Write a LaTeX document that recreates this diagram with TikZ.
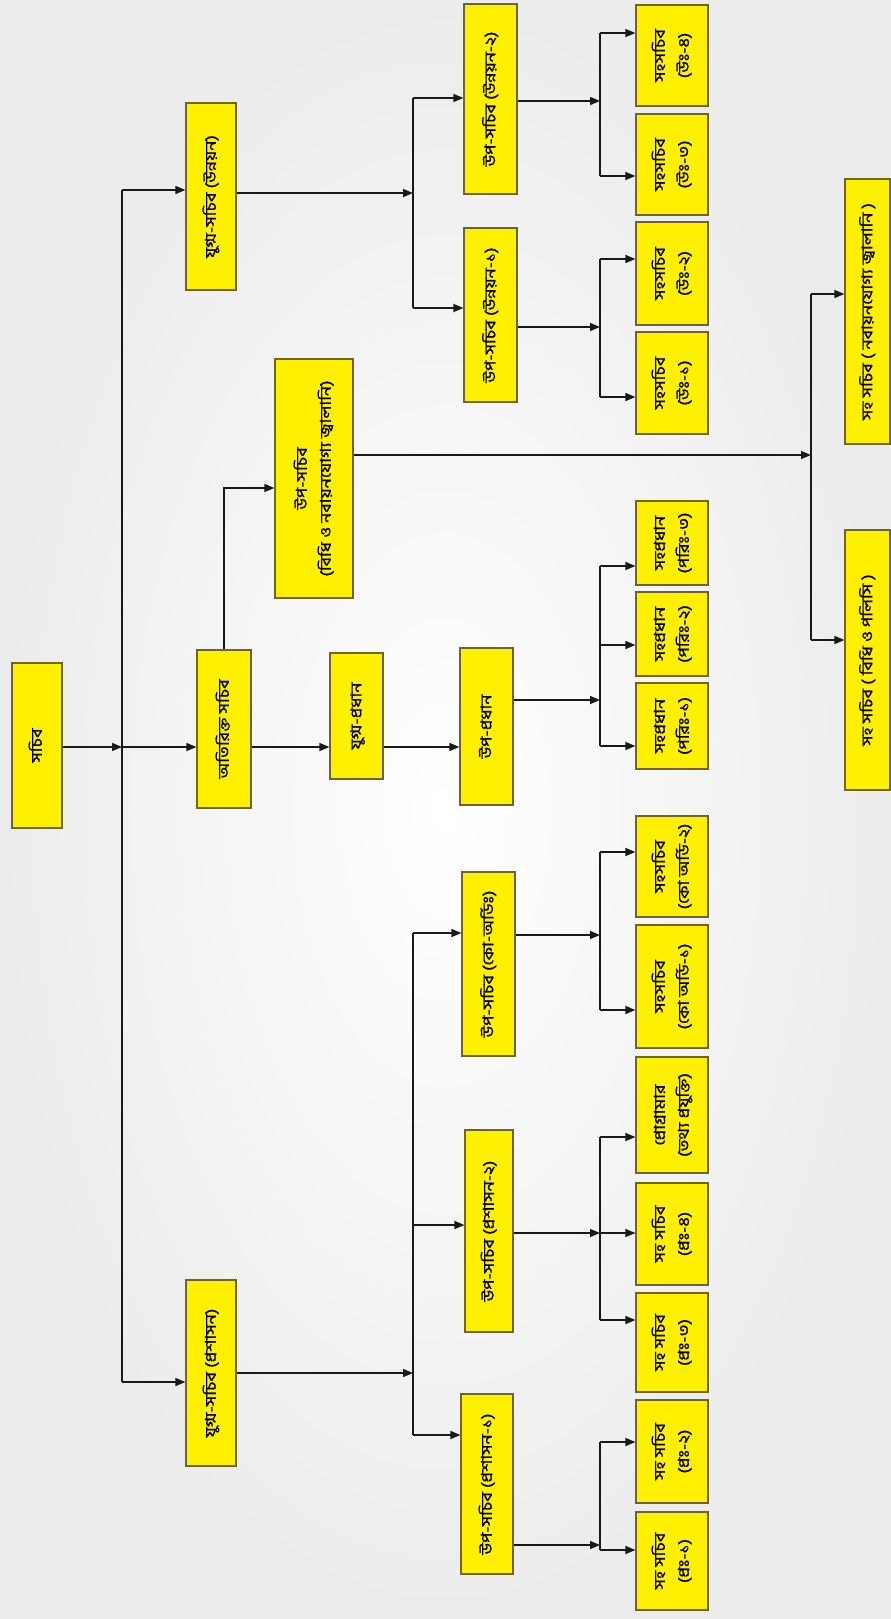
\documentclass[tikz,border=0pt]{standalone}
\usepackage{fontspec}
\usepackage{graphicx}
\newfontfamily\bn[Script=Bengali,FakeBold=0.8]{Hind Siliguri}
\usetikzlibrary{arrows.meta}
\definecolor{boxfill}{RGB}{255,240,0}
\definecolor{boxline}{RGB}{110,100,50}
\definecolor{lncol}{RGB}{25,25,25}
\definecolor{bgout}{RGB}{236,236,236}
\newcommand\rt[1]{\rotatebox{90}{\scalebox{1.2}[1]{\begin{tabular}{@{}c@{}}#1\end{tabular}}}}
\newcommand\bx[6]{\node[box, minimum width={#4-#2}, minimum height={#5-#3}] (#1) at ({(#2+#4)/2},{(#3+#5)/2}) {\rt{#6}};}
\tikzset{
  box/.style={draw=boxline, fill=boxfill, line width=1.2pt, inner sep=0pt, font=\bn\fontsize{15}{24}\selectfont},
  ln/.style={draw=lncol, line width=1.4pt},
  arr/.style={ln, -{Triangle[length=10pt,width=8pt]}}
}
\begin{document}
\begin{tikzpicture}[x=1pt,y=-1pt]
\shade[inner color=white, outer color=bgout] (0,0) rectangle (891,1619);
\useasboundingbox (0,0) rectangle (891,1619);

\bx{root}{12}{663}{62}{828}{সচিব}
\bx{devJS}{186}{103}{236}{290}{যুগ্ম-সচিব (উন্নয়ন)}
\bx{addl}{197}{650}{251}{808}{অতিরিক্ত সচিব}
\bx{admJS}{186}{1280}{236}{1466}{যুগ্ম-সচিব (প্রশাসন)}
\bx{dev2}{464}{4}{517}{194}{উপ-সচিব (উন্নয়ন-২)}
\bx{dev1}{464}{228}{517}{402}{উপ-সচিব (উন্নয়ন-১)}
\bx{u4}{636}{5}{708}{106}{সহসচিব\\(উঃ-৪)}
\bx{u3}{636}{114}{708}{215}{সহসচিব\\(উঃ-৩)}
\bx{u2}{636}{222}{708}{325}{সহসচিব\\(উঃ-২)}
\bx{u1}{636}{332}{708}{434}{সহসচিব\\(উঃ-১)}
\bx{rds}{275}{359}{353}{598}{উপ-সচিব\\(বিধি ও নবায়নযোগ্য জ্বালানি)}
\bx{nre}{845}{179}{890}{444}{সহ সচিব ( নবায়নযোগ্য জ্বালানি )}
\bx{rl}{845}{530}{890}{790}{সহ সচিব ( বিধি ও পলিসি )}
\bx{jc}{330}{653}{383}{779}{যুগ্ম-প্রধান}
\bx{dc}{460}{648}{513}{805}{উপ-প্রধান}
\bx{p3}{636}{501}{708}{585}{সহপ্রধান\\(পরিঃ-৩)}
\bx{p2}{636}{592}{708}{676}{সহপ্রধান\\(পরিঃ-২)}
\bx{p1}{636}{683}{708}{769}{সহপ্রধান\\(পরিঃ-১)}
\bx{cds}{462}{872}{515}{1056}{উপ-সচিব (কো-অর্ডিঃ)}
\bx{c2}{636}{816}{708}{917}{সহসচিব\\(কো অর্ডি-২)}
\bx{c1}{636}{925}{708}{1048}{সহসচিব\\(কো অর্ডি-১)}
\bx{ad2}{465}{1130}{513}{1332}{উপ-সচিব (প্রশাসন-২)}
\bx{prog}{636}{1057}{708}{1173}{প্রোগ্রামার\\(তথ্য প্রযুক্তি)}
\bx{a4}{636}{1183}{708}{1285}{সহ সচিব\\(প্রঃ-৪)}
\bx{a3}{636}{1293}{708}{1392}{সহ সচিব\\(প্রঃ-৩)}
\bx{ad1}{461}{1394}{513}{1574}{উপ-সচিব (প্রশাসন-১)}
\bx{a2}{636}{1400}{708}{1503}{সহ সচিব\\(প্রঃ-২)}
\bx{a1}{636}{1512}{708}{1610}{সহ সচিব\\(প্রঃ-১)}

% trunk
\coordinate (t1) at (122,190); \coordinate (t2) at (122,747); \coordinate (t3) at (122,1382);
\draw[arr] (root.east |- t2) -- (t2);
\draw[ln] (t1) -- (t3);
\draw[arr] (t1) -- (devJS.west |- t1);
\draw[arr] (t2) -- (addl.west |- t2);
\draw[arr] (t3) -- (admJS.west |- t3);

% development
\coordinate (dA) at (413,193); \coordinate (dB) at (413,98); \coordinate (dC) at (413,308);
\draw[arr] (devJS.east |- dA) -- (dA);
\draw[ln] (dB) -- (dC);
\draw[arr] (dB) -- (dev2.west |- dB);
\draw[arr] (dC) -- (dev1.west |- dC);
\coordinate (eA) at (600,101); \coordinate (eB) at (600,33); \coordinate (eC) at (600,176);
\draw[arr] (dev2.east |- eA) -- (eA);
\draw[ln] (eB) -- (eC);
\draw[arr] (eB) -- (u4.west |- eB);
\draw[arr] (eC) -- (u3.west |- eC);
\coordinate (fA) at (600,327); \coordinate (fB) at (600,259); \coordinate (fC) at (600,397);
\draw[arr] (dev1.east |- fA) -- (fA);
\draw[ln] (fB) -- (fC);
\draw[arr] (fB) -- (u2.west |- fB);
\draw[arr] (fC) -- (u1.west |- fC);

% rules
\draw[arr] (addl.north) |- (rds.west |- 0,488);
\coordinate (gA) at (811,455); \coordinate (gB) at (811,294); \coordinate (gC) at (811,640);
\draw[arr] (rds.east |- gA) -- (gA);
\draw[ln] (gB) -- (gC);
\draw[arr] (gB) -- (nre.west |- gB);
\draw[arr] (gC) -- (rl.west |- gC);

% planning
\draw[arr] (addl.east |- t2) -- (jc.west |- t2);
\draw[arr] (jc.east |- t2) -- (dc.west |- t2);
\coordinate (hA) at (600,700); \coordinate (hB) at (600,566); \coordinate (hM) at (600,645); \coordinate (hC) at (600,746);
\draw[arr] (dc.east |- hA) -- (hA);
\draw[ln] (hB) -- (hC);
\draw[arr] (hB) -- (p3.west |- hB);
\draw[arr] (hM) -- (p2.west |- hM);
\draw[arr] (hC) -- (p1.west |- hC);

% administration
\coordinate (kA) at (413,1373); \coordinate (kB) at (413,933); \coordinate (kM) at (413,1225); \coordinate (kC) at (413,1435);
\draw[arr] (admJS.east |- kA) -- (kA);
\draw[ln] (kB) -- (kC);
\draw[arr] (kB) -- (cds.west |- kB);
\draw[arr] (kM) -- (ad2.west |- kM);
\draw[arr] (kC) -- (ad1.west |- kC);
\coordinate (mA) at (600,935); \coordinate (mB) at (600,852); \coordinate (mC) at (600,1010);
\draw[arr] (cds.east |- mA) -- (mA);
\draw[ln] (mB) -- (mC);
\draw[arr] (mB) -- (c2.west |- mB);
\draw[arr] (mC) -- (c1.west |- mC);
\coordinate (nA) at (600,1233); \coordinate (nB) at (600,1137); \coordinate (nC) at (600,1320);
\draw[arr] (ad2.east |- nA) -- (nA);
\draw[ln] (nB) -- (nC);
\draw[arr] (nB) -- (prog.west |- nB);
\draw[arr] (nA) -- (a4.west |- nA);
\draw[arr] (nC) -- (a3.west |- nC);
\coordinate (oA) at (600,1545); \coordinate (oB) at (600,1442); \coordinate (oC) at (600,1550);
\draw[arr] (ad1.east |- oA) -- (oA);
\draw[ln] (oB) -- (oC);
\draw[arr] (oB) -- (a2.west |- oB);
\draw[arr] (oC) -- (a1.west |- oC);
\end{tikzpicture}
\end{document}
